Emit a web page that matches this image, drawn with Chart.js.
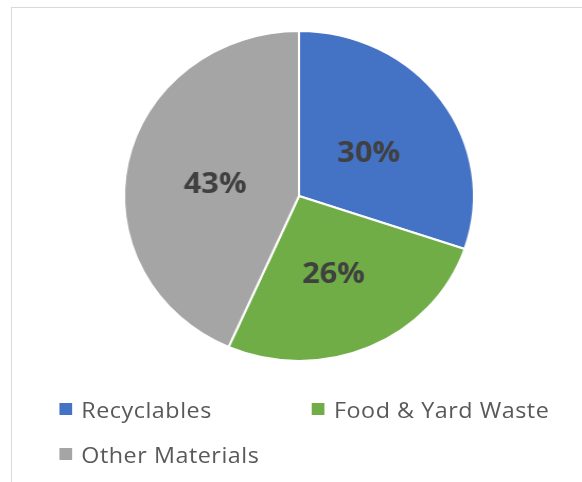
<!DOCTYPE html>
<html><head><meta charset="utf-8">
<script src="https://cdn.jsdelivr.net/npm/chart.js@4/dist/chart.umd.min.js"></script>
<style>
html,body{margin:0;padding:0;background:#fff;width:582px;height:482px;overflow:hidden;}
#frame{position:absolute;left:11px;top:7px;width:640px;height:560px;border:1px solid #d9d9d9;box-sizing:border-box;}
#wrap{position:absolute;left:0;top:0;width:582px;height:482px;transform:scaleX(1.06);transform-origin:299px 0;}
#legend{position:absolute;left:0;top:0;width:582px;height:482px;font-family:"Open Sans",sans-serif;font-size:22px;letter-spacing:0.5px;color:#595959;}
.item{position:absolute;display:flex;align-items:center;white-space:nowrap;height:30px;}
.box{width:12px;height:12px;margin-right:9px;flex:none;}
</style></head>
<body>
<div id="frame"></div>
<div id="wrap">
  <canvas id="c"></canvas>
  <div id="legend"></div>
</div>
<script>
const categories = ["Recyclables", "Food & Yard Waste", "Other Materials"];
const shares = [30.2, 26.4, 43.4];
const colors = ["#4472C4", "#70AD47", "#A5A5A5"];

const pctLabels = {
  id: 'pctLabels',
  afterDatasetsDraw(chart) {
    const ctx = chart.ctx;
    const meta = chart.getDatasetMeta(0);
    const vals = chart.data.datasets[0].data;
    ctx.save();
    ctx.font = 'bold 29px "Open Sans", sans-serif';
    ctx.fillStyle = '#404040';
    ctx.textAlign = 'center';
    ctx.textBaseline = 'middle';
    meta.data.forEach((arc, i) => {
      const p = arc.getProps(['x','y','startAngle','endAngle','outerRadius'], true);
      const a = (p.startAngle + p.endAngle) / 2;
      const r = p.outerRadius * 0.49;
      ctx.fillText(Math.round(vals[i]) + '%', p.x + Math.cos(a) * r, p.y + Math.sin(a) * r + 5);
    });
    ctx.restore();
  }
};

const chart = new Chart(document.getElementById('c'), {
  type: 'pie',
  data: {
    labels: categories,
    datasets: [{
      data: shares,
      backgroundColor: colors,
      borderColor: '#ffffff',
      borderWidth: 2
    }]
  },
  options: {
    responsive: true,
    maintainAspectRatio: false,
    animation: false,
    layout: { padding: { top: 30, bottom: 120, left: 16, right: 0 } },
    plugins: { legend: { display: false }, tooltip: { enabled: false } }
  },
  plugins: [pctLabels]
});

// HTML legend built from the chart's own legend items, two columns like the original
const legendEl = document.getElementById('legend');
const cols = [72.6, 311];
const rows = [394, 439];
chart.options.plugins.legend.labels.generateLabels(chart).forEach((it, i) => {
  const d = document.createElement('div');
  d.className = 'item';
  d.style.left = cols[i % 2] + 'px';
  d.style.top = rows[Math.floor(i / 2)] + 'px';
  const b = document.createElement('span');
  b.className = 'box';
  b.style.background = it.fillStyle;
  const t = document.createElement('span');
  t.textContent = it.text;
  d.appendChild(b); d.appendChild(t);
  legendEl.appendChild(d);
});
</script>
</body></html>
